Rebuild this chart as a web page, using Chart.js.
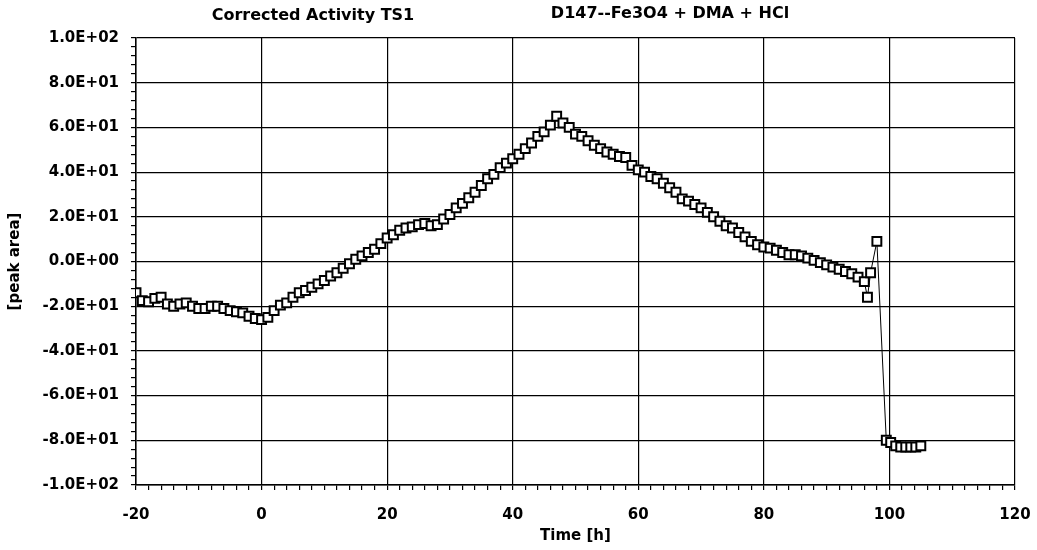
<!DOCTYPE html>
<html>
<head>
<meta charset="utf-8">
<script src="https://cdn.jsdelivr.net/npm/chart.js@4/dist/chart.umd.min.js"></script>
<style>
  html, body { margin: 0; padding: 0; background: #fff; }
  #wrap { width: 1037px; height: 550px; }
</style>
</head>
<body>
<div id="wrap"><canvas id="c" width="1037" height="550"></canvas></div>
<script>
// ---- data ----
const timeH = [
  -20,-19,-18,-17,-16,-15,-14,-13,-12,-11,-10,-9,-8,-7,-6,-5,-4,-3,-2,-1,
  0,1,2,3,4,5,6,7,8,9,10,11,12,13,14,15,16,17,18,19,
  20,21,22,23,24,25,26,27,28,29,30,31,32,33,34,35,36,37,38,39,
  40,41,42,43,44,45,46,47,48,49,50,51,52,53,54,55,56,57,58,59,
  60,61,62,63,64,65,66,67,68,69,70,71,72,73,74,75,76,77,78,79,
  80,81,82,83,84,85,86,87,88,89,90,91,92,93,94,95,96,96.5,97,98,
  99.5,100.2,101,101.8,102.6,103.4,104.2,105
];
const peakArea = [
  -14,-17.5,-18,-16.5,-16,-19,-20,-19,-18.5,-20,-21,-21,-20,-20,-21,-22,-22.5,-23,-24.5,-25.5,
  -26,-25,-22,-19.5,-18.5,-16,-14,-13,-11.5,-10,-8.5,-6.5,-5,-3,-1,1,2.5,4,5.5,8,
  10.5,12,14,15,15.5,16.5,17,16,16.5,19,21,24,26,28.5,31,34,37,39,42,44,
  46,48,50.5,53,56,58,61,65,62,60,57,56,54,52,50.5,49,48,47,46.5,43,
  41,40,38,37,35,33,31,28,27,25.5,24,22,20,18,16,15,13,11,9,7.5,
  6.5,6,5,4,3,3,2.5,1.5,0.5,-0.5,-1.5,-2.5,-3.5,-4.5,-5.5,-7,-9,-16,-5,9,
  -80,-81,-82.5,-83,-83,-83,-83,-82.5
];
const xMajorTicks = [-20, 0, 20, 40, 60, 80, 100, 120];
const yMajorTicks = [-100, -80, -60, -40, -20, 0, 20, 40, 60, 80, 100];
const yTickLabels = ['-1.0E+02','-8.0E+01','-6.0E+01','-4.0E+01','-2.0E+01','0.0E+00',
                     '2.0E+01','4.0E+01','6.0E+01','8.0E+01','1.0E+02'];
const titleLeft = 'Corrected Activity TS1';
const titleRight = 'D147--Fe3O4 + DMA + HCl';
const xTitle = 'Time [h]';
const yTitle = '[peak area]';

const points = timeH.map((t, i) => ({ x: t, y: peakArea[i] }));
const FONT = '"DejaVu Sans", "Liberation Sans", Arial, sans-serif';

const topTitles = {
  id: 'topTitles',
  afterDraw(chart) {
    const ctx = chart.ctx;
    ctx.save();
    ctx.fillStyle = '#000';
    ctx.font = 'bold 16px ' + FONT;
    ctx.textAlign = 'center';
    ctx.textBaseline = 'middle';
    ctx.fillText(titleLeft, 313, 16);
    ctx.fillText(titleRight, 670, 14);
    ctx.restore();
  }
};

new Chart(document.getElementById('c'), {
  type: 'scatter',
  data: {
    datasets: [{
      data: points,
      showLine: true,
      borderColor: '#000',
      borderWidth: 1,
      pointStyle: 'rect',
      pointRadius: 6.3,
      pointBorderWidth: 2,
      pointBackgroundColor: '#fff',
      pointBorderColor: '#000',
      tension: 0
    }]
  },
  options: {
    responsive: false,
    devicePixelRatio: 1,
    animation: false,
    layout: { padding: { top: 38, right: 22, left: 0, bottom: 0 } },
    plugins: { legend: { display: false }, tooltip: { enabled: false }, title: { display: false } },
    scales: {
      x: {
        type: 'linear',
        min: -20, max: 120,
        afterFit(scale) { scale.height = 65; scale.paddingLeft = 0; scale.paddingRight = 0; },
        ticks: {
          stepSize: 2,
          autoSkip: false,
          maxRotation: 0,
          padding: 16,
          color: '#000',
          font: { family: FONT, size: 15, weight: 'bold' },
          callback: (v) => xMajorTicks.includes(v) ? String(v) : ''
        },
        grid: {
          color: (ctx) => (ctx.tick && xMajorTicks.includes(ctx.tick.value)) ? '#000' : 'rgba(0,0,0,0)',
          tickColor: '#000',
          tickLength: 5,
          lineWidth: 1.2
        },
        border: { color: '#000', width: 1.5 },
        title: {
          display: true,
          text: xTitle,
          color: '#000',
          font: { family: FONT, size: 15, weight: 'bold' },
          padding: { top: 0, bottom: 5 }
        }
      },
      y: {
        type: 'linear',
        min: -100, max: 100,
        afterFit(scale) { scale.width = 136; scale.paddingTop = 0; scale.paddingBottom = 0; },
        ticks: {
          stepSize: 4,
          autoSkip: false,
          padding: 12,
          color: '#000',
          font: { family: FONT, size: 15, weight: 'bold' },
          callback: (v) => { const i = yMajorTicks.indexOf(v); return i >= 0 ? yTickLabels[i] : ''; }
        },
        grid: {
          color: (ctx) => (ctx.tick && yMajorTicks.includes(ctx.tick.value)) ? '#000' : 'rgba(0,0,0,0)',
          tickColor: '#000',
          tickLength: 5,
          lineWidth: 1.2
        },
        border: { color: '#000', width: 1.5 },
        title: {
          display: true,
          text: yTitle,
          color: '#000',
          font: { family: FONT, size: 15, weight: 'bold' },
          padding: { top: 6, bottom: 0 }
        }
      }
    }
  },
  plugins: [topTitles]
});
</script>
</body>
</html>
